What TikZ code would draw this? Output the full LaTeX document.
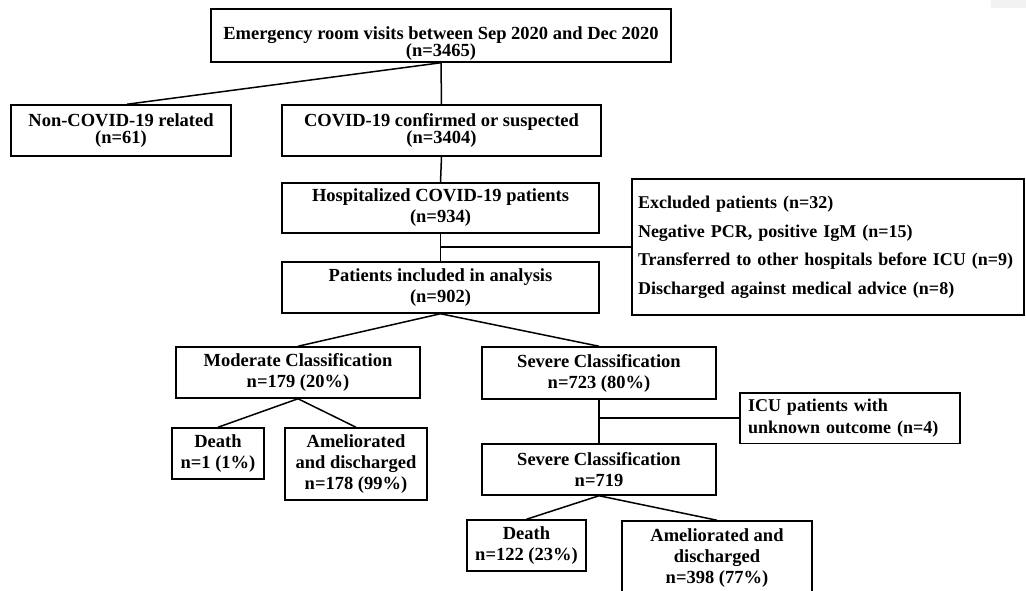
\documentclass[tikz,border=0pt]{standalone}
\usepackage{fontspec}
\setmainfont{Liberation Serif}
\usepackage{tikz}
\usetikzlibrary{positioning}
\newcommand{\tightfont}{\fontsize{18.5}{17.2}\selectfont\lineskiplimit=-8pt\relax\bfseries}
\tikzstyle{fbox} = [rectangle, draw, line width=1.5pt, inner sep=0pt, align=center, font=\fontsize{18.5}{21}\selectfont\bfseries]
\tikzstyle{tight} = [font=\tightfont]
\tikzstyle{line} = [draw, line width=1.5pt]

\begin{document}
\begin{tikzpicture}[x=1pt, y=-1pt]
			\useasboundingbox (0,0) rectangle (1026,591);
			\fill [black!5] (991,0) rectangle (1026,8);

			\node [fbox, minimum width=460, minimum height=53] (er) at (441, 35.5) {};
			\node [tight, align=center] (ertext) at (441, 43.5) {Emergency room visits between Sep 2020 and Dec 2020\\(n=3465)};
			\node [fbox, tight, minimum width=220, minimum height=51] (noncovid) at (121, 130.5) {Non-COVID-19 related\\(n=61)};
			\node [fbox, tight, minimum width=319, minimum height=51] (covid) at (441.5, 130.5) {COVID-19 confirmed or suspected\\(n=3404)};
			\node [fbox, minimum width=317, minimum height=50] (hosp) at (440.5, 208) {Hospitalized COVID-19 patients\\(n=934)};
			\node [fbox, minimum width=317, minimum height=51] (incl) at (440.5, 287.5) {Patients included in analysis\\(n=902)};
			\node [fbox, align=left, text width=380, inner xsep=6, minimum height=136, font=\fontsize{18}{28.5}\selectfont\bfseries] (excl) at (828, 247) {Excluded patients (n=32)\\Negative PCR, positive IgM (n=15)\\Transferred to other hospitals before ICU (n=9)\\Discharged against medical advice (n=8)};
			\node [fbox, minimum width=244, minimum height=51] (mod) at (298, 372.5) {Moderate Classification\\n=179 (20\%)};
			\node [fbox, minimum width=234, minimum height=52] (sev) at (599, 373) {Severe Classification\\n=723 (80\%)};
			\node [fbox, minimum width=92, minimum height=51] (death1) at (218, 453.5) {Death\\n=1 (1\%)};
			\node [fbox, minimum width=142, minimum height=72] (amel1) at (356, 464) {Ameliorated\\and discharged\\n=178 (99\%)};
			\node [fbox, align=left, text width=204, inner xsep=8, minimum height=50.5, font=\fontsize{18}{22}\selectfont\bfseries] (icu) at (850, 418) {ICU patients with\\unknown outcome (n=4)};
			\node [fbox, minimum width=234, minimum height=51] (sev2) at (599, 469.5) {Severe Classification\\n=719};
			\node [fbox, minimum width=119, minimum height=51] (death2) at (526.5, 545.5) {Death\\n=122 (23\%)};
			\node [fbox, minimum width=190, minimum height=74] (amel2) at (717, 558) {Ameliorated and\\discharged\\n=398 (77\%)};

			\path [line] (er.south) -- (covid.north);
			\path [line] (er.south) -- ([xshift=6]noncovid.north);
			\path [line] (covid.south) -- (hosp.north);
			\path [line] (hosp.south) -- (incl.north);
			\coordinate (exclj) at (hosp.south |- excl.west);
			\path [line] (exclj) -- (excl.west);
			\path [line] (incl.south) -- (mod.north);
			\path [line] (incl.south) -- (sev.north);
			\path [line] (mod.south) -- (death1.north);
			\path [line] (mod.south) -- (amel1.north);
			\path [line] (sev.south) -- (sev2.north);
			\coordinate (icuj) at (sev.south |- icu.west);
			\path [line] (icuj) -- (icu.west);
			\path [line] (sev2.south) -- (death2.north);
			\path [line] (sev2.south) -- (amel2.north);
		\end{tikzpicture}
\end{document}
